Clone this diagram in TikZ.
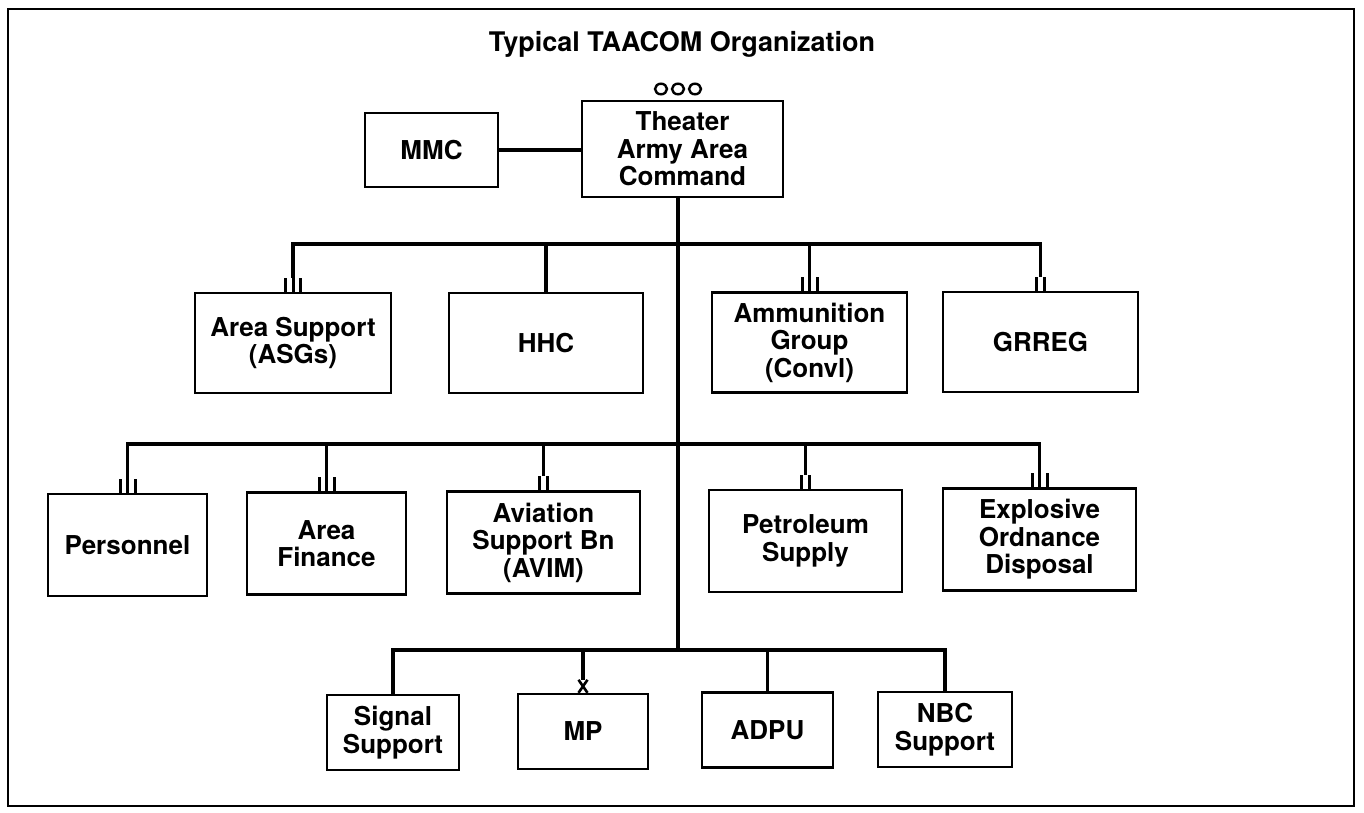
\documentclass[tikz,border=0pt]{standalone}
\usepackage{fontspec}
\setmainfont{TeX Gyre Heros}
\begin{document}
\begin{tikzpicture}[x=1pt,y=-1pt,
  box/.style={draw, line width=2.4pt, inner sep=0pt, align=center,
    font=\bfseries\fontsize{26}{27.5}\selectfont},
  conn/.style={line width=3.8pt, line cap=rect},
  drop/.style={line width=3.8pt, line cap=butt},
  bar/.style={line width=3pt, line cap=butt},
  titlefont/.style={font=\bfseries\fontsize{27}{30}\selectfont}]
\useasboundingbox (0,0) rectangle (1364,813);
\fill[white] (0,0) rectangle (1364,813);
\draw[line width=2pt] (8,9) rectangle (1354,806);

% title
\node[titlefont, anchor=base] (title) at (682,52) {Typical TAACOM Organization};

% top level
\node[box, minimum width=201, minimum height=96] (tac) at (682.5,149) {Theater\\Army Area\\Command};
\node[box, minimum width=133, minimum height=74] (mmc) at (431.5,150) {MMC};
\foreach \cx in {661,678,695}
  \draw[line width=2.4pt] (\cx,89) ellipse [x radius=6, y radius=5.3];

% row 1
\node[box, minimum width=196, minimum height=100] (asg) at (293,343) {Area Support\\(ASGs)};
\node[box, minimum width=194, minimum height=100] (hhc) at (546,343) {HHC};
\node[box, minimum width=195, minimum height=100] (ammo) at (809.5,342.5) {Ammunition\\Group\\(Convl)};
\node[box, minimum width=195, minimum height=100] (grreg) at (1040.5,342) {GRREG};

% row 2
\node[box, minimum width=159, minimum height=102] (pers) at (127.5,545) {Personnel};
\node[box, minimum width=159, minimum height=102] (fin) at (326.5,543.5) {Area\\Finance};
\node[box, minimum width=193, minimum height=102] (avn) at (543.5,542.5) {Aviation\\Support Bn\\(AVIM)};
\node[box, minimum width=193, minimum height=102] (pol) at (805.5,541) {Petroleum\\Supply};
\node[box, minimum width=193, minimum height=102] (eod) at (1039.5,539.5) {Explosive\\Ordnance\\Disposal};

% row 3
\node[box, minimum width=132, minimum height=75] (sig) at (393,732.5) {Signal\\Support};
\node[box, minimum width=130, minimum height=75] (mp) at (583,731.5) {MP};
\node[box, minimum width=131, minimum height=75] (adpu) at (767.5,730) {ADPU};
\node[box, minimum width=134, minimum height=75] (nbc) at (945,729.5) {NBC\\Support};

% bus coordinates
\coordinate (b1) at (678,244);
\coordinate (b2) at (678,444);
\coordinate (b3) at (678,650);

% MMC link and trunk
\draw[drop] (mmc.east) -- (mmc.east -| tac.west);
\draw[drop] (tac.south -| b1) -- (b3);

% row 1 bus and drops
\draw[conn] (asg.north |- b1) -- (grreg.north |- b1);
\draw[drop] (asg.north |- b1) -- ([yshift=14pt]asg.north);
\draw[drop] (hhc.north |- b1) -- (hhc.north);
\draw[drop] (ammo.north |- b1) -- ([yshift=14pt]ammo.north);
\draw[drop] (grreg.north |- b1) -- ([yshift=14pt]grreg.north);
% unit symbols row 1
\foreach \n in {asg,ammo}
  \foreach \dx in {-7.5,0,7.5}
    \draw[bar] ([xshift=\dx pt]\n.north) -- ++(0,-14);
\foreach \dx in {-4,4}
  \draw[bar] ([xshift=\dx pt]grreg.north) -- ++(0,-14);

% row 2 bus and drops
\draw[conn] (pers.north |- b2) -- (eod.north |- b2);
\foreach \n in {pers,fin,avn,pol,eod}
  \draw[drop] (\n.north |- b2) -- ([yshift=14pt]\n.north);
\foreach \n in {pers,fin,eod}
  \foreach \dx in {-7.5,0,7.5}
    \draw[bar] ([xshift=\dx pt]\n.north) -- ++(0,-14);
\foreach \n in {avn,pol}
  \foreach \dx in {-4,4}
    \draw[bar] ([xshift=\dx pt]\n.north) -- ++(0,-14);

% row 3 bus and drops
\draw[conn] (sig.north |- b3) -- (nbc.north |- b3);
\draw[drop] (sig.north |- b3) -- (sig.north);
\draw[drop] (mp.north |- b3) -- ([yshift=13pt]mp.north);
\draw[drop] (adpu.north |- b3) -- (adpu.north);
\draw[drop] (nbc.north |- b3) -- (nbc.north);
% MP symbol X
\draw[line width=2.6pt] ([xshift=-4.5pt]mp.north) -- ++(9,-13);
\draw[line width=2.6pt] ([xshift=4.5pt]mp.north) -- ++(-9,-13);
\end{tikzpicture}
\end{document}
